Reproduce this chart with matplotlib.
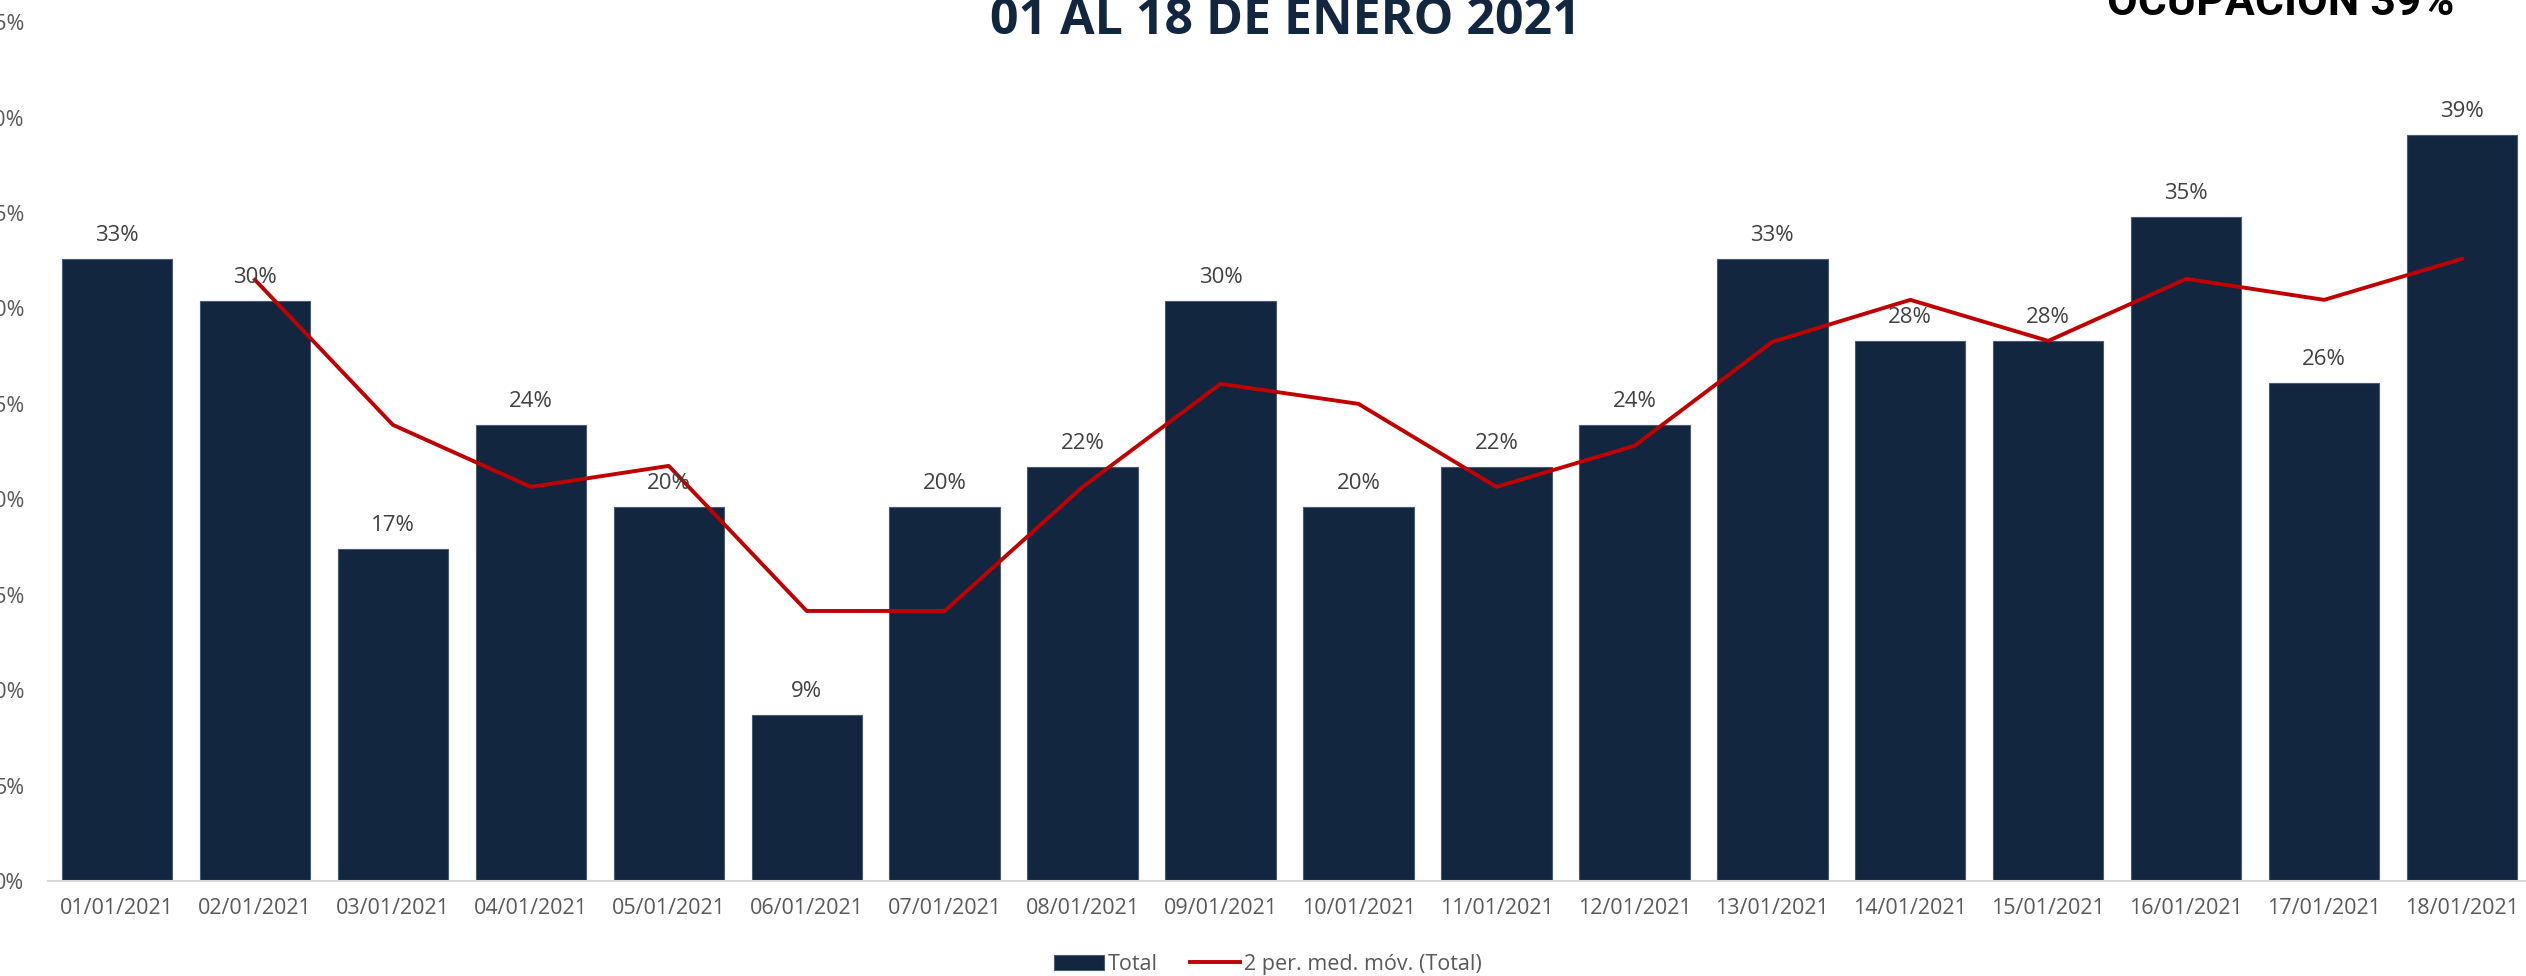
import numpy as np
import pandas as pd
import matplotlib
matplotlib.use("Agg")
import matplotlib.pyplot as plt
from matplotlib.ticker import PercentFormatter

# Daily occupancy, 01 to 18 January 2021
dates = ["01/01/2021", "02/01/2021", "03/01/2021", "04/01/2021", "05/01/2021",
         "06/01/2021", "07/01/2021", "08/01/2021", "09/01/2021", "10/01/2021",
         "11/01/2021", "12/01/2021", "13/01/2021", "14/01/2021", "15/01/2021",
         "16/01/2021", "17/01/2021", "18/01/2021"]
total = [0.326, 0.304, 0.174, 0.239, 0.196, 0.087, 0.196, 0.217, 0.304,
         0.196, 0.217, 0.239, 0.326, 0.283, 0.283, 0.348, 0.261, 0.391]
yticks = [0, 0.05, 0.10, 0.15, 0.20, 0.25, 0.30, 0.35, 0.40, 0.45]

# Excel-style 2 period moving average trendline
df = pd.DataFrame({"fecha": dates, "total": total})
df["media_movil"] = df["total"].rolling(2).mean()

navy = "#13263f"
red = "#c00000"
gray = "#595959"
plt.rcParams["font.family"] = ["Open Sans", "DejaVu Sans"]

fig = plt.figure(figsize=(25.26, 9.76), dpi=100)
ax = fig.add_axes([0.019, 0.0973, 0.983, 0.880])

x = np.arange(len(dates))
bars = ax.bar(x, df["total"], width=0.8, color=navy, edgecolor="#4a5a70",
              linewidth=0.8, label="Total", zorder=2)
line, = ax.plot(x, df["media_movil"], color=red, linewidth=2.8,
                label="2 per. med. móv. (Total)", zorder=3)

# value labels above the bars
for xi, v in zip(x, df["total"]):
    ax.annotate(f"{v:.0%}", (xi, v), xytext=(0, 9), textcoords="offset points",
                ha="center", va="bottom", fontsize=16, color="#404040", zorder=4)

ax.set_xlim(-0.5, len(dates) - 0.5)
ax.set_ylim(0, 0.45)
ax.set_yticks(yticks)
ax.yaxis.set_major_formatter(PercentFormatter(1.0, decimals=0))
ax.set_xticks(x)
ax.set_xticklabels(dates)
ax.tick_params(axis="both", length=0, labelsize=15.5, labelcolor=gray)
ax.tick_params(axis="x", pad=12)
ax.tick_params(axis="y", pad=17)

for s in ["top", "right", "left"]:
    ax.spines[s].set_visible(False)
ax.spines["bottom"].set_color("#d9d9d9")
ax.spines["bottom"].set_linewidth(1.5)

fig.text(0.509, 0.965, "01 AL 18 DE ENERO 2021", ha="center", va="baseline",
         fontsize=36, fontweight="bold", color=navy)
fig.text(0.903, 0.985, "OCUPACIÓN 39%", ha="center", va="baseline",
         fontsize=32, fontweight="bold", color="black",
         family=["Roboto", "Open Sans"])

fig.legend([bars, line], ["Total", "2 per. med. móv. (Total)"], loc="center",
           bbox_to_anchor=(0.502, 0.012), ncol=2, frameon=False,
           fontsize=15.5, labelcolor=gray, handlelength=2.3, columnspacing=1.5,
           handletextpad=0.2)

fig.savefig("out.png", dpi=100)
